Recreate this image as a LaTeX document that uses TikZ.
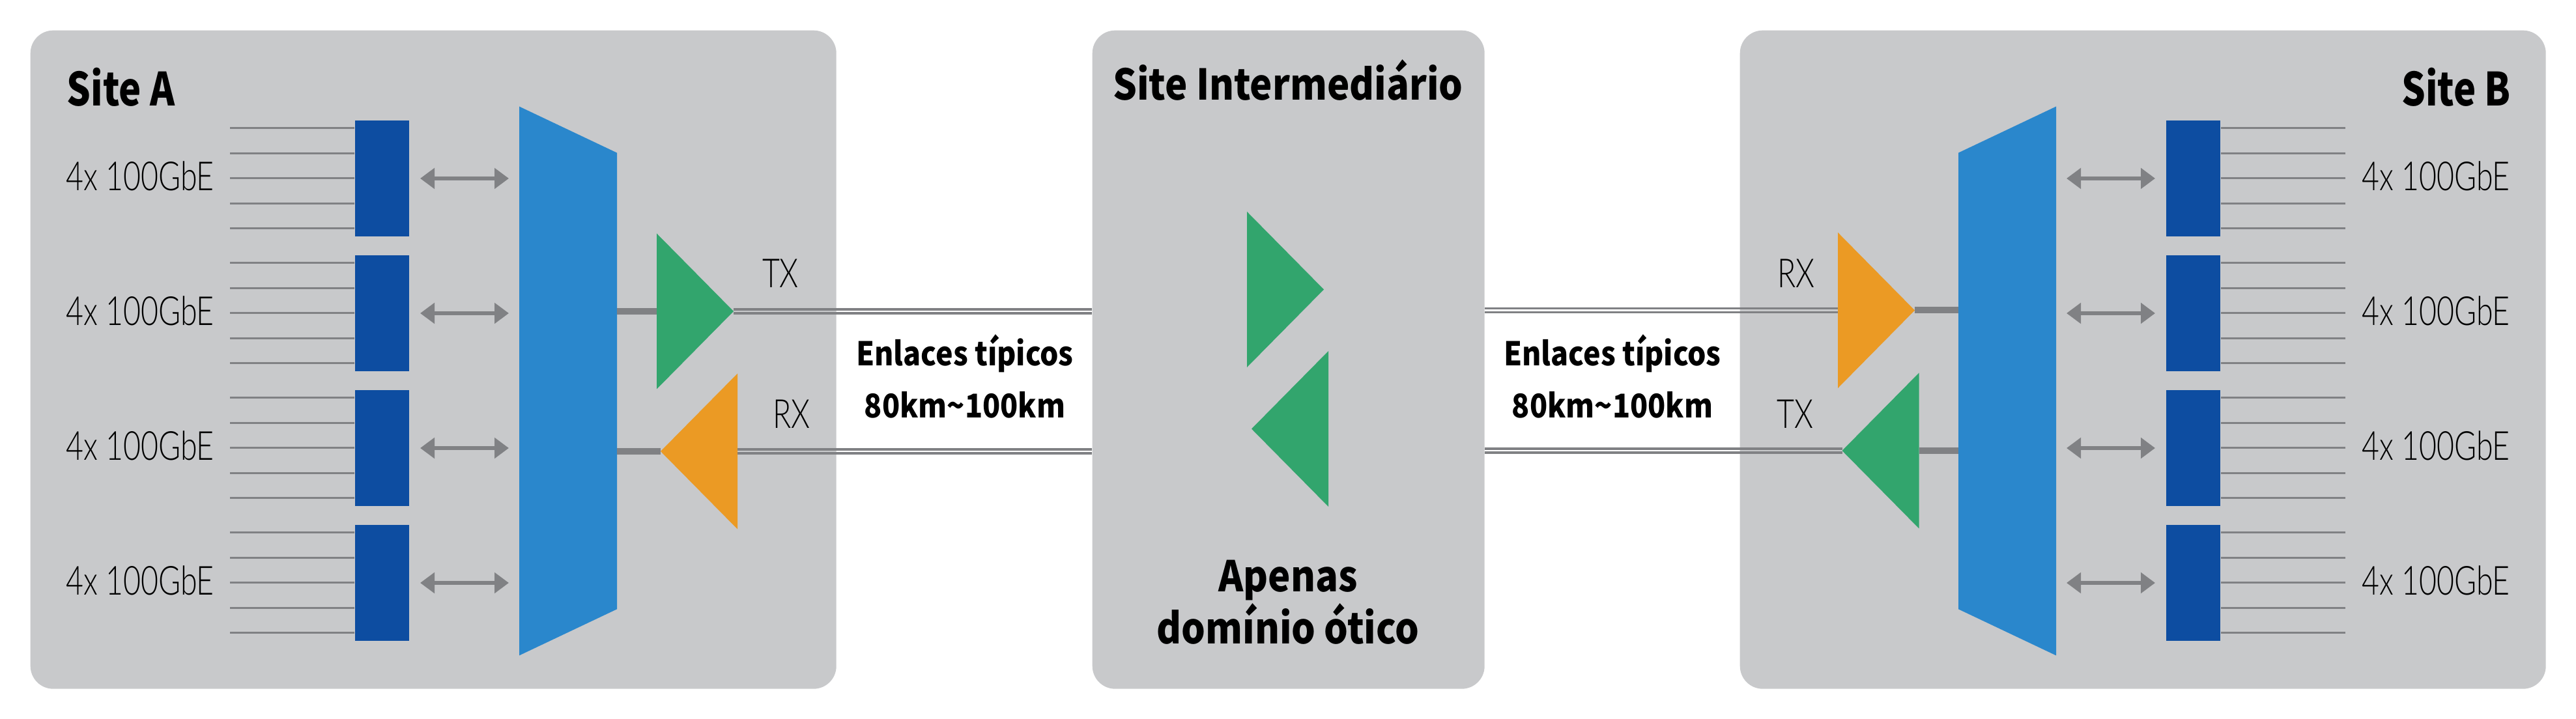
\documentclass[tikz,border=0pt]{standalone}
\usepackage{fontspec}
\setmainfont{Noto Sans CJK SC}[FakeStretch=0.89]
\newfontfamily\thinfont[FakeStretch=0.755]{Lato Light}
\newfontfamily\cornerfont{Noto Sans CJK SC}[FakeStretch=0.82]
\usetikzlibrary{positioning,calc,arrows.meta,shapes.geometric}
\definecolor{panelgray}{HTML}{C8C9CB}
\definecolor{wiregray}{HTML}{808184}
\definecolor{cardblue}{HTML}{0D4DA1}
\definecolor{muxblue}{HTML}{2A87CC}
\definecolor{ampgreen}{HTML}{32A56D}
\definecolor{amporange}{HTML}{EB9A24}
\tikzset{
	site/.style={fill=panelgray, rounded corners=0.35cm, inner sep=0, anchor=north west},
	card/.style={fill=cardblue, inner sep=0, minimum width=0.83cm, minimum height=1.78cm},
	mux/.style={fill=muxblue, inner sep=1pt, outer sep=0, trapezium, trapezium stretches=true, trapezium angle=84.2, minimum width=8.43cm, minimum height=1.5cm},
	amp/.style={isosceles triangle, isosceles triangle stretches=true, inner sep=0, outer sep=0, minimum width=2.39cm, minimum height=1.18cm, anchor=lower side},
	lane/.style={wiregray, line width=0.03cm},
	fibre/.style={wiregray, line width=0.033cm},
	feeder/.style={wiregray, line width=0.1cm},
	link/.style={wiregray, line width=0.06cm, {Triangle[width=0.31cm,length=0.22cm]}-{Triangle[width=0.31cm,length=0.22cm]}},
	thin/.style={inner sep=0, anchor=base, font=\thinfont\fontsize{17.5}{20}\selectfont},
	heavy/.style={inner sep=0, align=center, font=\bfseries\fontsize{14.3}{22.75}\selectfont},
	title/.style={inner sep=0, align=center, font=\bfseries\fontsize{18.5}{22.7}\selectfont},
	corner/.style={inner sep=0, anchor=base, font=\cornerfont\bfseries\fontsize{20}{24}\selectfont}
}
\begin{document}
\begin{tikzpicture}
	\useasboundingbox (0, 0) rectangle (39.54, -11.04);
	% panels
	\node[site, minimum width=12.37cm, minimum height=10.11cm] (sitea) at (0.46, -0.46) {};
	\node[site, minimum width=6.02cm, minimum height=10.11cm] (sitem) at (16.76, -0.46) {};
	\node[site, minimum width=12.37cm, minimum height=10.11cm] (siteb) at (26.70, -0.46) {};

	\node[corner] (titlea) at (1.855, -1.63) {Site A};
	\node[title, anchor=base] (titlem) at (19.77, -1.54) {Site Intermediário};
	\node[corner] (titleb) at (37.70, -1.63) {Site B};

	% muxes
	\node[mux, rotate=-90] (muxa) at (8.72, -5.85) {};
	\node[mux, rotate=90] (muxb) at (30.81, -5.85) {};

	% client cards on both sides
	\foreach \i/\y in {1/-2.74, 2/-4.81, 3/-6.88, 4/-8.95} {
		\node[card] (carda\i) at (5.865, \y) {};
		\node[card] (cardb\i) at (33.665, \y) {};
		\node[thin] (gbea\i) at (2.15, \y-0.19) {4x 100GbE};
		\node[thin] (gbeb\i) at (37.39, \y-0.19) {4x 100GbE};
		\coordinate (linka\i) at (6.45, \y);
		\coordinate (portmuxa\i) at (7.81, \y);
		\coordinate (linkb\i) at (33.08, \y);
		\coordinate (portmuxb\i) at (31.72, \y);
		\draw[link] (linka\i) -- (portmuxa\i);
		\draw[link] (portmuxb\i) -- (linkb\i);
		\foreach \l in {-1.54, -1.16, -0.77, -0.39, 0} {
			\coordinate (lanea) at (3.53, \y+0.775+\l);
			\coordinate (laneb) at (36.00, \y+0.775+\l);
			\draw[lane] (lanea) -- (lanea -| carda\i.west);
			\draw[lane] (laneb) -- (laneb -| cardb\i.east);
		}
	}

	% amplifiers
	\node[amp, fill=ampgreen] (txa) at (10.08, -4.78) {};
	\node[amp, fill=amporange, shape border rotate=180] (rxa) at (11.32, -6.93) {};
	\node[amp, fill=ampgreen] (ampup) at (19.14, -4.445) {};
	\node[amp, fill=ampgreen, shape border rotate=180] (ampdown) at (20.39, -6.585) {};
	\node[amp, fill=amporange] (rxb) at (28.21, -4.765) {};
	\node[amp, fill=ampgreen, shape border rotate=180] (txb) at (29.455, -6.92) {};

	\draw[feeder] (txa.lower side) -- (txa.lower side -| muxa.top side);
	\draw[feeder] (rxa.apex) -- (rxa.apex -| muxa.top side);
	\draw[feeder] (rxb.apex) -- (rxb.apex -| muxb.top side);
	\draw[feeder] (txb.lower side) -- (txb.lower side -| muxb.top side);

	% fibre pairs
	\foreach \s in {-0.03, 0.03} {
		\draw[fibre] ([yshift=\s cm]txa.apex) -- ([yshift=\s cm]txa.apex -| sitem.west);
		\draw[fibre] ([yshift=\s cm]rxa.lower side) -- ([yshift=\s cm]rxa.lower side -| sitem.west);
		\draw[fibre] ([yshift=\s cm]rxb.lower side) -- ([yshift=\s cm]rxb.lower side -| sitem.east);
		\draw[fibre] ([yshift=\s cm]txb.apex) -- ([yshift=\s cm]txb.apex -| sitem.east);
	}

	% labels
	\node[thin] (labtxa) at (11.98, -4.42) {TX};
	\node[thin] (labrxa) at (12.15, -6.58) {RX};
	\node[thin] (labrxb) at (27.57, -4.42) {RX};
	\node[thin] (labtxb) at (27.55, -6.58) {TX};
	\node[heavy] (spana) at (14.81, -5.78) {Enlaces típicos\\80km\textasciitilde 100km};
	\node[heavy] (spanb) at (24.75, -5.78) {Enlaces típicos\\80km\textasciitilde 100km};
	\node[title] (domain) at (19.77, -9.25) {Apenas\\domínio ótico};
\end{tikzpicture}
\end{document}
